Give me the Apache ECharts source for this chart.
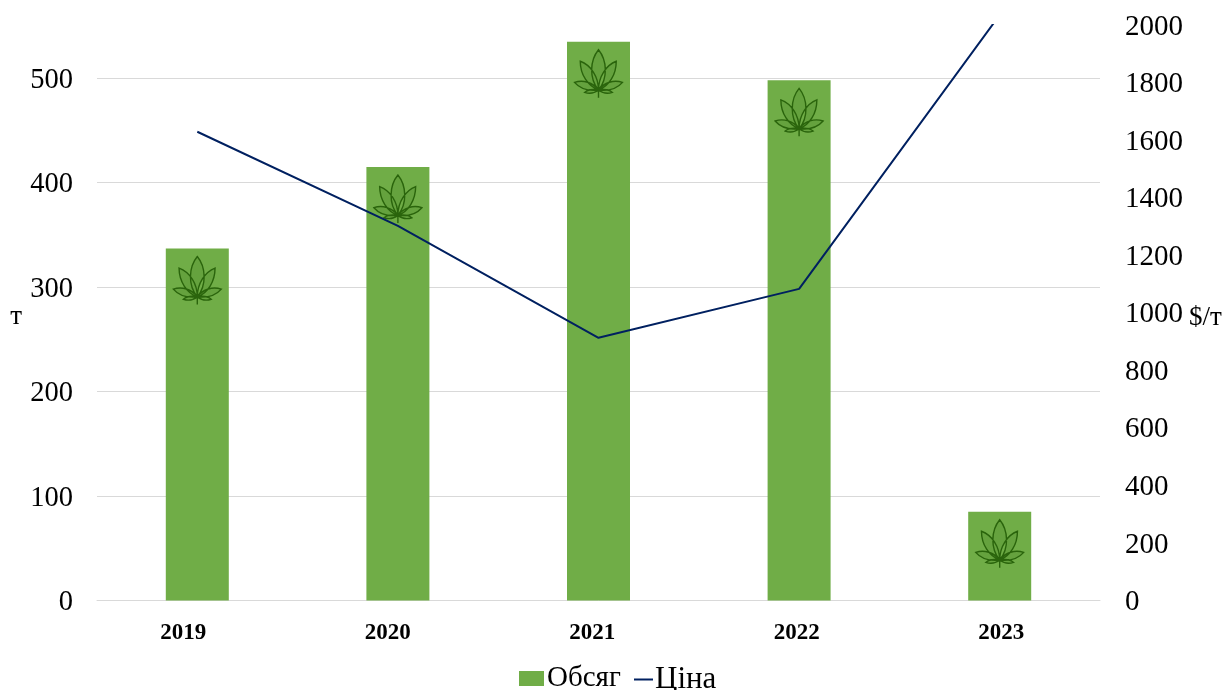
<!DOCTYPE html>
<html><head><meta charset="utf-8">
<style>html,body{margin:0;padding:0;background:#fff}#c{width:1225px;height:690px}</style>
<script src="https://cdn.jsdelivr.net/npm/echarts@6/dist/echarts.min.js"></script>
</head><body><div id="c"></div>
<script>
const years = ['2019','2020','2021','2022','2023'];
const volume = [337,415,535,498,85];
const price = [1629,1302,913,1083,2035];
const FONT = '"Liberation Serif","Times New Roman",serif';
const LEAF = 'path://M50 84C30 60 32 22 50 0C68 22 70 60 50 84Z'
 + 'M50 84C28 76 12 52 12 24C34 32 50 56 50 84Z'
 + 'M50 84C72 76 87 52 87 24C66 32 50 56 50 84Z'
 + 'M50 84C32 86 12 82 0 68C18 62 38 68 50 84Z'
 + 'M50 84C68 86 88 82 100 68C82 62 62 68 50 84Z'
 + 'M50 84C40 92 30 92 21 89C28 83 40 82 50 84Z'
 + 'M50 84C60 92 70 92 79 89C72 83 60 82 50 84Z'
 + 'M50 84L50 100L50 84Z';
const tick = v => '{t|' + v + '}';
const tickRich = size => ({t:{fontFamily:FONT,fontSize:size,color:'#000',padding:[4,0,0,0]}});
const chart = echarts.init(document.getElementById('c'), null, {renderer:'canvas'});
chart.setOption({
  animation:false,
  backgroundColor:'#fff',
  textStyle:{fontFamily:FONT},
  grid:[
    {left:97,right:125,top:25,bottom:89.5,outerBoundsMode:'none'},
    {left:81,right:121.5,top:25,bottom:89.5,outerBoundsMode:'none'}
  ],
  legend:[
    {data:['Обсяг'],icon:'rect',left:519,top:664,padding:0,itemWidth:25,itemHeight:15,itemGap:0,
     textStyle:{fontFamily:FONT,fontSize:29,color:'#000',padding:[0,0,0,-2]}},
    {data:['Ціна'],icon:'rect',left:634,top:664,padding:0,itemWidth:19,itemHeight:2,itemGap:0,
     textStyle:{fontFamily:FONT,fontSize:31,color:'#000',padding:[0,0,0,-3]}}
  ],
  xAxis:[
    {type:'category',gridIndex:0,data:years,
     axisLine:{show:true,lineStyle:{color:'#d9d9d9',width:1}},axisTick:{show:false},axisLabel:{show:false}},
    {type:'category',gridIndex:1,data:years,
     axisLine:{show:false},axisTick:{show:false},
     axisLabel:{fontFamily:FONT,fontSize:23,fontWeight:'bold',color:'#000',margin:21}}
  ],
  yAxis:[
    {type:'value',gridIndex:0,min:0,max:551,interval:100,
     name:'{n|т}',nameLocation:'middle',nameRotate:0,nameGap:75,
     nameTextStyle:{rich:{n:{fontFamily:FONT,fontSize:27,color:'#000',padding:[8,0,0,0]}}},
     axisLine:{show:false},axisTick:{show:false},
     axisLabel:{margin:24,showMaxLabel:false,formatter:tick,rich:tickRich(28.5)},
     splitLine:{show:true,showMaxLine:false,showMinLine:false,lineStyle:{color:'#d9d9d9',width:1}}},
    {type:'value',gridIndex:0,position:'right',min:0,max:2000,interval:200,
     name:'{n|$/т}',nameLocation:'middle',nameRotate:0,nameGap:88,
     nameTextStyle:{rich:{n:{fontFamily:FONT,fontSize:27,color:'#000',padding:[10,0,0,0]}}},
     axisLine:{show:false},axisTick:{show:false},
     axisLabel:{margin:25,formatter:tick,rich:tickRich(29)},
     splitLine:{show:false}},
    {type:'value',gridIndex:1,show:false,min:0,max:1}
  ],
  series:[
    {name:'Обсяг',type:'bar',xAxisIndex:0,yAxisIndex:0,data:volume,barWidth:63,
     itemStyle:{color:'#70ad47'},z:2},
    {name:'leaf',type:'scatter',xAxisIndex:0,yAxisIndex:0,data:volume,
     symbol:LEAF,symbolSize:[48,48],symbolOffset:[0,32],
     itemStyle:{color:'rgba(42,100,12,0.15)',borderColor:'#2a640c',borderWidth:1.4,opacity:1},
     silent:true,z:3},
    {name:'Ціна',type:'line',xAxisIndex:0,yAxisIndex:1,data:price,
     showSymbol:false,symbol:'none',clip:true,
     lineStyle:{color:'#002060',width:2},itemStyle:{color:'#002060'},z:4}
  ]
});
</script></body></html>
